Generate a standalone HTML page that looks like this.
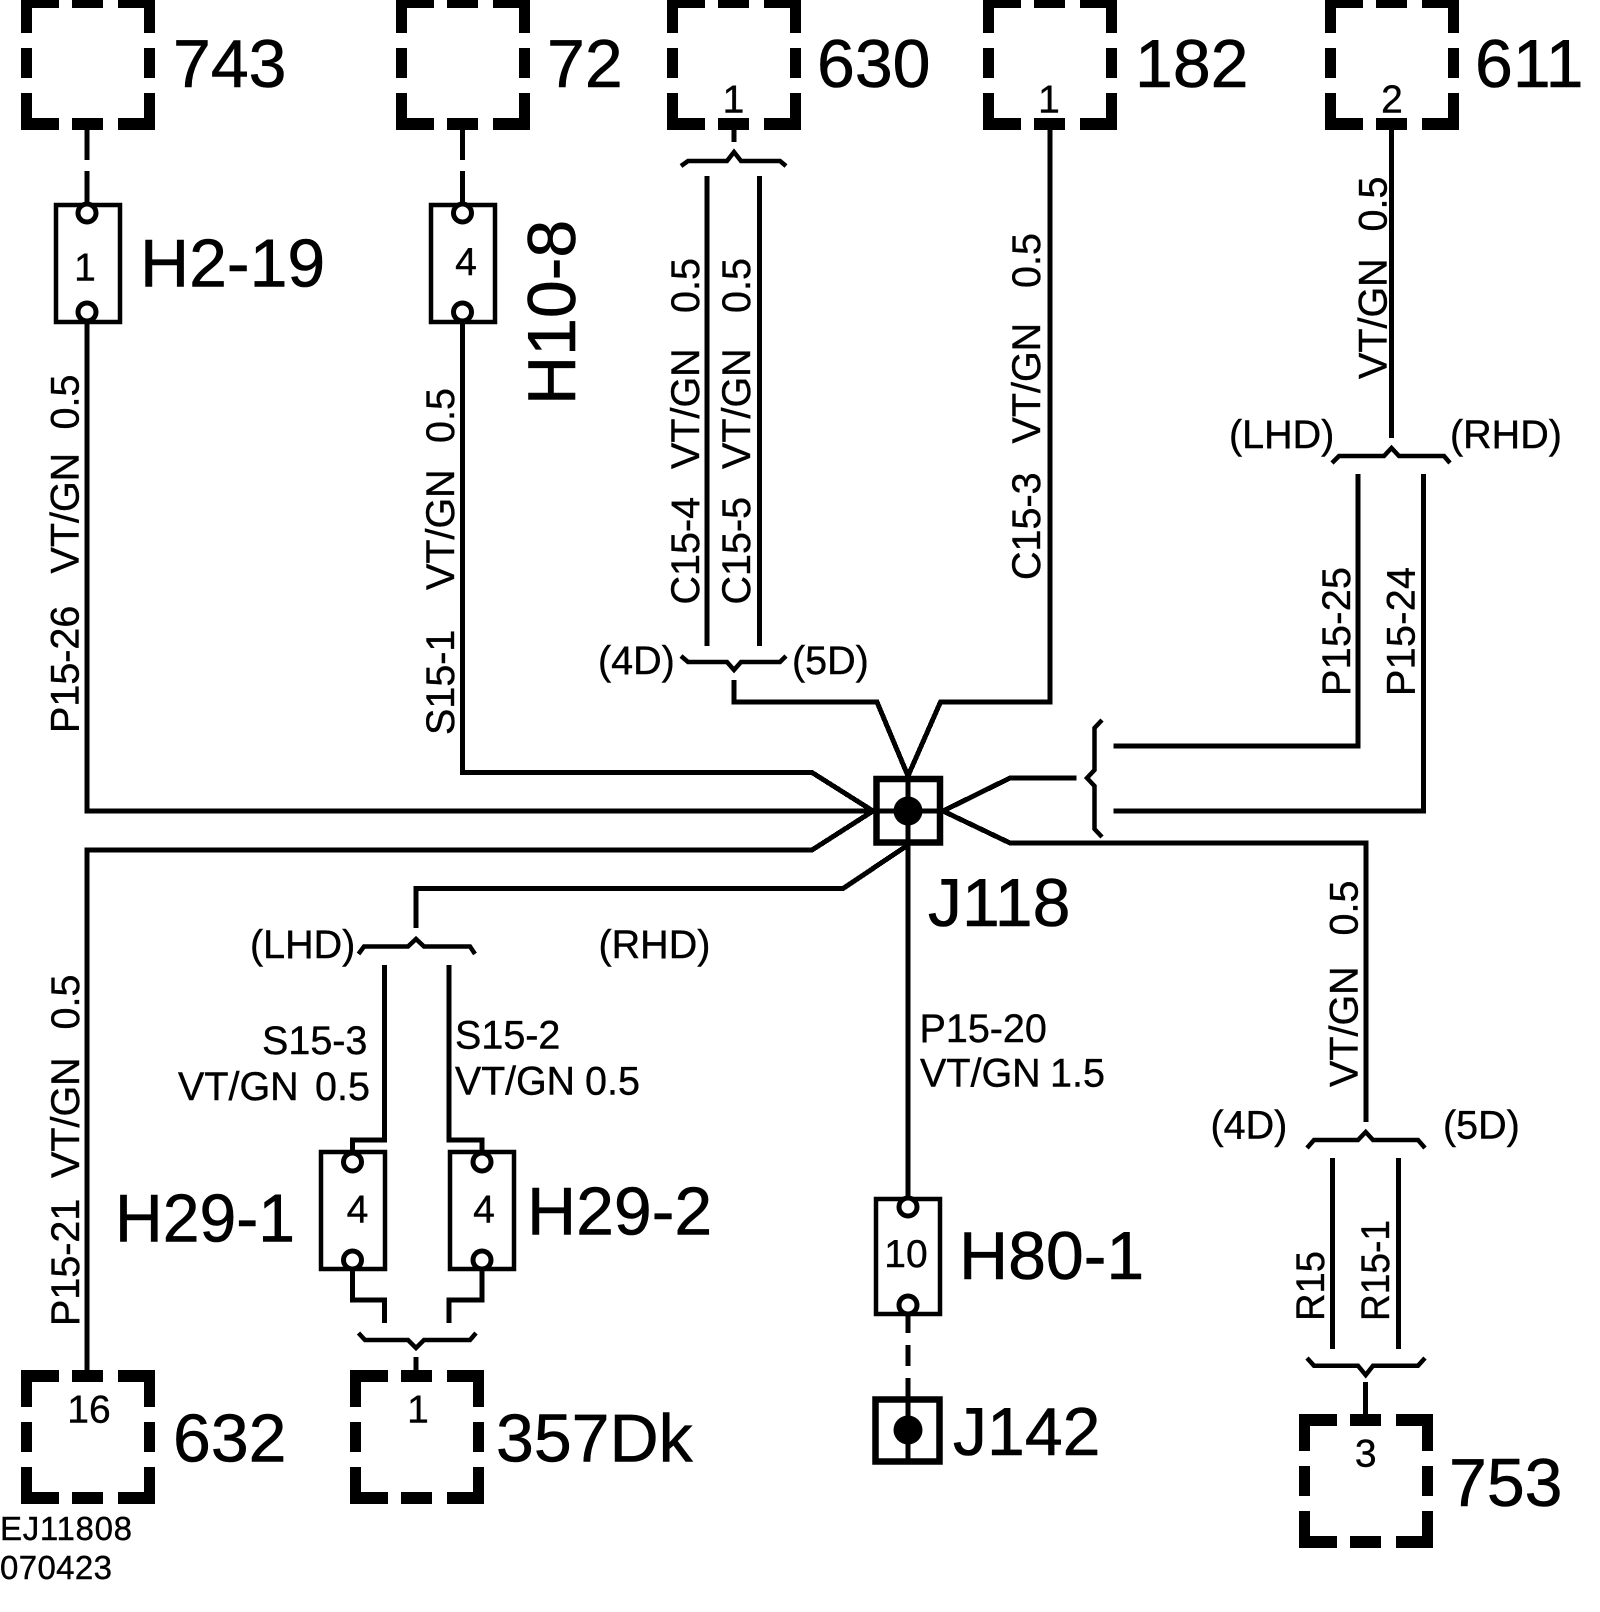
<!DOCTYPE html>
<html><head><meta charset="utf-8"><style>
html,body{margin:0;padding:0;background:#fff}
svg{display:block}
text{font-family:"Liberation Sans",Arial,sans-serif;fill:#000;white-space:pre;stroke:#000;stroke-width:.4}
.L{font-size:68px;stroke-width:.6}.M{font-size:39.5px}.N{font-size:39px;text-anchor:middle}.S{font-size:33px}
.w{fill:none;stroke:#000;stroke-width:5;stroke-linejoin:miter}
.b{fill:none;stroke:#000;stroke-width:4.5}
.c{fill:#fff;stroke:#000;stroke-width:5}
.r{fill:none;stroke:#000;stroke-width:4.5}
.j{fill:none;stroke:#000;stroke-width:6.5}
</style></head><body>
<svg xmlns="http://www.w3.org/2000/svg" xmlns:xlink="http://www.w3.org/1999/xlink" width="1600" height="1612" viewBox="0 0 1600 1612">
<defs>
<path id="bx" d="M0 0H38V12H11V37H0ZM51 0H82V12H51ZM97 0H134V37H123V12H97ZM0 52H11V82H0ZM123 52H134V82H123ZM0 97H11V122H38V134H0ZM51 122H82V134H51ZM97 122H123V97H134V134H97Z"/>
</defs>
<rect width="1600" height="1612" fill="#fff"/>
<!-- wires -->
<g class="w" shape-rendering="crispEdges">
<path class="w" d="M87 130V160M87 171V203M87 324V811H873"/>
<path class="w" d="M462.500 130V160M462.500 171V203M462.500 324V772.500H812L873 811"/>
<path class="w" d="M734 130V142"/>
<path class="w" d="M707 176V646M759.500 176V646"/>
<path class="w" d="M734 680V702H877L908 776L940.500 702H1050V130"/>
<path class="w" d="M1391.500 130V438"/>
<path class="w" d="M1358 474V746H1113.500M1423.500 474V811H1113.500"/>
<path class="w" d="M1076.500 778H1010L943 811L1010 843H1366V1122"/>
<path class="w" d="M873 811L812 850H87V1370"/>
<path class="w" d="M908 845L843 888.500H416V928"/>
<path class="w" d="M908 776V1197"/>
<path class="w" d="M873 811H943"/>
<path class="w" d="M384.500 965V1140H352.500V1151M449 965V1140H482V1151"/>
<path class="w" d="M352.500 1271V1300H384.500V1323M482 1271V1300H449V1323"/>
<path class="w" d="M416 1357V1370"/>
<path class="w" d="M908 1316V1333M908 1345V1366M908 1378V1464"/>
<path class="w" d="M1332.700 1158V1349M1398.300 1158V1349"/>
<path class="w" d="M1365.700 1382V1414"/>
</g>
<!-- braces -->
<g class="b">
<path d="M681 166L688 161H727L734 152L741 161H780L786 166"/>
<path d="M681 656L688 662H727L734 670L741 662H780L786 656"/>
<path d="M1332 463L1339 456H1384L1391.500 448L1399 456H1444L1450 463"/>
<path d="M1102 720L1094.500 728V770L1087 778L1094.500 786V829L1102 837"/>
<path d="M358.500 954L364 946.500H408L416 939L424 946.500H470L475 954"/>
<path d="M358.500 1333L365 1340H408L416 1348L424 1340H470L476 1333"/>
<path d="M1307 1148L1314 1140H1358L1365.700 1132L1373 1140H1418L1425 1148"/>
<path d="M1307 1358L1314 1365.700H1358L1365.700 1375L1373 1365.700H1418L1425 1358"/>
</g>
<!-- dashed component boxes -->
<use xlink:href="#bx" href="#bx" x="21" y="-4"/>
<use xlink:href="#bx" href="#bx" x="396" y="-4"/>
<use xlink:href="#bx" href="#bx" x="667" y="-4"/>
<use xlink:href="#bx" href="#bx" x="983" y="-4"/>
<use xlink:href="#bx" href="#bx" x="1325" y="-4"/>
<use xlink:href="#bx" href="#bx" x="21" y="1370"/>
<use xlink:href="#bx" href="#bx" x="350" y="1370"/>
<use xlink:href="#bx" href="#bx" x="1299" y="1414"/>
<!-- connectors -->
<rect class="r" x="56" y="205" width="64" height="117"/>
<circle class="c" cx="87" cy="213" r="9"/><circle class="c" cx="87" cy="312" r="9"/>
<rect class="r" x="431" y="205" width="64" height="117"/>
<circle class="c" cx="462.500" cy="213" r="9"/><circle class="c" cx="462.500" cy="312" r="9"/>
<rect class="r" x="321" y="1152" width="64" height="117"/>
<circle class="c" cx="352.500" cy="1162" r="9"/><circle class="c" cx="352.500" cy="1260" r="9"/>
<rect class="r" x="450" y="1152" width="64" height="117"/>
<circle class="c" cx="482" cy="1162" r="9"/><circle class="c" cx="482" cy="1260" r="9"/>
<rect class="r" x="876" y="1199" width="64" height="115"/>
<circle class="c" cx="908" cy="1207" r="9"/><circle class="c" cx="908" cy="1305" r="9"/>
<!-- junctions -->
<rect class="j" x="876.500" y="779" width="63.500" height="63.500"/>
<circle cx="908" cy="811" r="14.500"/>
<rect class="j" x="875.500" y="1399.500" width="64" height="62"/>
<circle cx="908" cy="1430" r="14.500"/>
<!-- large labels -->
<text class="L" x="173" y="87">743</text>
<text class="L" x="547" y="87">72</text>
<text class="L" x="817" y="87">630</text>
<text class="L" x="1135" y="87">182</text>
<text class="L" x="1475" y="87">611</text>
<text class="L" x="140" y="286.500">H2-19</text>
<text class="L" transform="translate(575 405) rotate(-90)">H10-8</text>
<text class="L" x="928" y="926">J118</text>
<text class="L" x="115" y="1241.500" textLength="180" lengthAdjust="spacingAndGlyphs">H29-1</text>
<text class="L" x="527" y="1234.500">H29-2</text>
<text class="L" x="959" y="1279">H80-1</text>
<text class="L" x="953" y="1455">J142</text>
<text class="L" x="173" y="1461.500">632</text>
<text class="L" x="496" y="1461.500">357Dk</text>
<text class="L" x="1449" y="1506">753</text>
<!-- numbers -->
<text class="N" x="85" y="280.500">1</text>
<text class="N" x="466" y="275">4</text>
<text class="N" x="733.500" y="112.500">1</text>
<text class="N" x="1049" y="112.500">1</text>
<text class="N" x="1392" y="112.500">2</text>
<text class="N" x="357.500" y="1222.500">4</text>
<text class="N" x="484" y="1222.500">4</text>
<text class="N" x="906" y="1267">10</text>
<text class="N" x="89" y="1422.500">16</text>
<text class="N" x="418" y="1422.500">1</text>
<text class="N" x="1365.700" y="1466.500">3</text>
<!-- vertical wire labels -->
<text class="M" transform="translate(78.500 733) rotate(-90)">P15-26</text>
<text class="M" transform="translate(78.500 573.500) rotate(-90)">VT/GN</text>
<text class="M" transform="translate(78.500 429.500) rotate(-90)">0.5</text>
<text class="M" transform="translate(454 735) rotate(-90)">S15-1</text>
<text class="M" transform="translate(454 590) rotate(-90)">VT/GN</text>
<text class="M" transform="translate(454 443) rotate(-90)">0.5</text>
<text class="M" transform="translate(698.800 604.500) rotate(-90)">C15-4</text>
<text class="M" transform="translate(698.800 469) rotate(-90)">VT/GN</text>
<text class="M" transform="translate(698.800 313) rotate(-90)">0.5</text>
<text class="M" transform="translate(750 604.500) rotate(-90)">C15-5</text>
<text class="M" transform="translate(750 469) rotate(-90)">VT/GN</text>
<text class="M" transform="translate(750 313) rotate(-90)">0.5</text>
<text class="M" transform="translate(1040 580) rotate(-90)">C15-3</text>
<text class="M" transform="translate(1040 443.500) rotate(-90)">VT/GN</text>
<text class="M" transform="translate(1040 288) rotate(-90)">0.5</text>
<text class="M" transform="translate(1386.500 379) rotate(-90)">VT/GN</text>
<text class="M" transform="translate(1386.500 231.500) rotate(-90)">0.5</text>
<text class="M" transform="translate(1350 696) rotate(-90)" textLength="129" lengthAdjust="spacing">P15-25</text>
<text class="M" transform="translate(1414.700 696) rotate(-90)" textLength="129" lengthAdjust="spacing">P15-24</text>
<text class="M" transform="translate(79 1326) rotate(-90)">P15-21</text>
<text class="M" transform="translate(79 1178) rotate(-90)">VT/GN</text>
<text class="M" transform="translate(79 1029.500) rotate(-90)">0.5</text>
<text class="M" transform="translate(1357.600 1087) rotate(-90)">VT/GN</text>
<text class="M" transform="translate(1357.600 935.500) rotate(-90)">0.5</text>
<text class="M" transform="translate(1324 1321) rotate(-90)" textLength="70" lengthAdjust="spacingAndGlyphs">R15</text>
<text class="M" transform="translate(1389 1321) rotate(-90)" textLength="101" lengthAdjust="spacingAndGlyphs">R15-1</text>
<!-- horizontal wire labels -->
<text class="M" x="1229" y="448">(LHD)</text>
<text class="M" x="1450" y="448">(RHD)</text>
<text class="M" x="598" y="674">(4D)</text>
<text class="M" x="792" y="674">(5D)</text>
<text class="M" x="250" y="958">(LHD)</text>
<text class="M" x="598.500" y="958">(RHD)</text>
<text class="M" x="1210.500" y="1138.500">(4D)</text>
<text class="M" x="1443" y="1138.500">(5D)</text>
<text class="M" x="262" y="1054">S15-3</text>
<text class="M" x="178" y="1100">VT/GN</text>
<text class="M" x="315" y="1100">0.5</text>
<text class="M" x="455" y="1048.500">S15-2</text>
<text class="M" x="455" y="1094.500" textLength="120" lengthAdjust="spacingAndGlyphs">VT/GN</text>
<text class="M" x="585" y="1094.500">0.5</text>
<text class="M" x="919.500" y="1042">P15-20</text>
<text class="M" x="920" y="1086.500">VT/GN</text>
<text class="M" x="1050" y="1086.500">1.5</text>
<!-- reference -->
<text class="S" x="0" y="1540" textLength="132" lengthAdjust="spacing">EJ11808</text>
<text class="S" x="0" y="1579" textLength="112" lengthAdjust="spacing">070423</text>
</svg>
</body></html>
